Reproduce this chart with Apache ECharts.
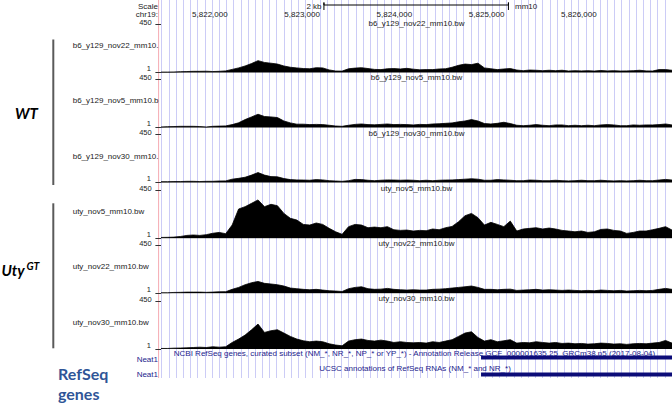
<!DOCTYPE html>
<html>
<head>
<meta charset="utf-8">
<script src="https://cdn.jsdelivr.net/npm/echarts@6/dist/echarts.min.js"></script>
<style>
  html, body { margin: 0; background: #fff; }
  #chart { width: 672px; height: 405px; }
</style>
</head>
<body>
<div id="chart"></div>
<script>
// coverage, 80 bins across the window, scale 1..450
const b6Nov22 = [5, 5, 6, 9, 10, 12, 12, 13, 10, 12, 16, 30, 44, 62, 85, 112, 95, 88, 80, 62,
  50, 44, 38, 36, 46, 44, 25, 15, 14, 36, 42, 46, 38, 30, 28, 36, 38, 34, 40, 32,
  26, 28, 28, 34, 36, 50, 68, 80, 75, 88, 44, 36, 28, 34, 38, 24, 18, 24, 22, 18,
  22, 18, 22, 15, 18, 16, 18, 15, 20, 16, 18, 15, 16, 18, 22, 16, 15, 28, 28, 22];
const b6Nov5 = [6, 9, 10, 12, 12, 12, 10, 6, 12, 14, 16, 28, 45, 75, 100, 125, 104, 100, 94, 62,
  44, 32, 32, 28, 30, 28, 22, 15, 12, 22, 30, 34, 28, 26, 30, 34, 28, 30, 28, 25,
  30, 28, 34, 36, 40, 44, 54, 62, 75, 62, 38, 34, 40, 50, 38, 22, 18, 22, 28, 22,
  18, 25, 25, 18, 22, 18, 22, 18, 25, 28, 25, 18, 18, 25, 22, 25, 25, 28, 34, 25];
const b6Nov30 = [9, 9, 10, 10, 12, 12, 10, 12, 12, 15, 16, 32, 40, 50, 70, 94, 70, 56, 54, 38,
  28, 25, 24, 22, 28, 25, 18, 15, 12, 18, 30, 28, 22, 18, 22, 25, 24, 22, 24, 22,
  18, 22, 18, 22, 24, 25, 28, 32, 36, 32, 22, 22, 28, 25, 22, 18, 18, 24, 22, 18,
  18, 22, 18, 16, 18, 22, 18, 18, 22, 18, 16, 18, 16, 18, 22, 18, 18, 24, 30, 24];
const utyNov5 = [9, 10, 12, 18, 28, 32, 28, 35, 48, 56, 44, 125, 275, 297, 328, 360, 297, 319, 306, 234,
  188, 172, 131, 125, 144, 131, 94, 62, 38, 110, 131, 125, 100, 106, 100, 110, 81, 75, 78, 69,
  75, 72, 88, 81, 100, 112, 156, 212, 234, 194, 125, 150, 131, 110, 162, 69, 88, 94, 100, 88,
  97, 88, 75, 69, 62, 69, 56, 62, 84, 88, 75, 69, 47, 56, 69, 69, 81, 94, 110, 78];
const utyNov22 = [6, 6, 9, 10, 12, 12, 12, 10, 12, 15, 16, 38, 56, 81, 100, 112, 94, 88, 81, 69,
  50, 44, 38, 34, 38, 31, 25, 22, 18, 44, 56, 62, 44, 38, 40, 47, 38, 34, 31, 34,
  31, 31, 38, 40, 44, 50, 56, 62, 69, 56, 38, 38, 34, 38, 40, 28, 31, 34, 38, 31,
  34, 31, 28, 31, 28, 25, 28, 25, 31, 28, 25, 28, 22, 25, 28, 25, 28, 38, 47, 38];
const utyNov30 = [6, 6, 9, 10, 12, 15, 18, 15, 22, 18, 22, 62, 94, 131, 181, 234, 156, 172, 181, 150,
  119, 94, 78, 69, 75, 69, 50, 38, 31, 75, 88, 94, 81, 75, 84, 75, 62, 69, 62, 59,
  62, 56, 69, 62, 75, 88, 119, 150, 162, 109, 75, 88, 69, 78, 88, 56, 62, 59, 69, 62,
  56, 62, 53, 56, 50, 53, 47, 50, 56, 53, 47, 50, 44, 50, 53, 50, 56, 62, 81, 56];

const tracks = [b6Nov22, b6Nov5, b6Nov30, utyNov5, utyNov22, utyNov30];
const trackNames = ['b6_y129_nov22_mm10.bw', 'b6_y129_nov5_mm10.bw', 'b6_y129_nov30_mm10.bw',
  'uty_nov5_mm10.bw', 'uty_nov22_mm10.bw', 'uty_nov30_mm10.bw'];
const sideNames = ['b6_y129_nov22_mm10.', 'b6_y129_nov5_mm10.b', 'b6_y129_nov30_mm10.',
  'uty_nov5_mm10.bw', 'uty_nov22_mm10.bw', 'uty_nov30_mm10.bw'];
const scaleLabels = [1, 450];
const rulerTicks = [5822000, 5823000, 5824000, 5825000, 5826000];
const scaleBar = [5823000, 5825000];
const viewStart = 5821234, viewEnd = 5826773;
const neat1Start = 5824703;

// layout
const font = '"Liberation Sans", Arial, sans-serif';
const baselines = [72.5, 127.5, 182.5, 238.3, 293.3, 349];
const trackH = 48;
const nameY = [23.6, 77.3, 133, 188.3, 243.5, 298.5];
const sideY = [45, 100.7, 156, 211.7, 266.7, 322.3];

const fmt = v => String(v).replace(/\B(?=(\d{3})+(?!\d))/g, ',');

const grid = [
  { left: 161.7, top: 0, width: 71 * 7.19, height: 378 },   // guidelines
  { left: 161, top: 0, width: 511, height: 16.7 },           // ruler
];
const xAxis = [
  { gridIndex: 0, type: 'value', min: 0, max: 71, interval: 1,
    axisLine: { show: false }, axisTick: { show: false }, axisLabel: { show: false },
    splitLine: { show: true, lineStyle: { color: '#ccccf6', width: 1 } } },
  { gridIndex: 1, type: 'value', min: viewStart, max: viewEnd, position: 'bottom',
    axisLine: { show: false }, splitLine: { show: false },
    axisTick: { show: true, inside: true, length: 5, customValues: rulerTicks,
      lineStyle: { color: '#000', width: 1 } },
    axisLabel: { customValues: rulerTicks, formatter: fmt, fontSize: 8, fontFamily: font, color: '#222',
      align: 'right', verticalAlign: 'middle', margin: -2.4, padding: [0, 4, 0, 0] } },
];
const yAxis = [
  { gridIndex: 0, type: 'value', min: 0, max: 1, show: false },
  { gridIndex: 1, type: 'value', min: 0, max: 16.7, inverse: true, show: false },
];
const series = [
  { type: 'line', xAxisIndex: 1, yAxisIndex: 1, symbol: 'none', silent: true,
    data: [[scaleBar[0], 10], [scaleBar[0], 2.5], [scaleBar[0], 5], [scaleBar[1], 5], [scaleBar[1], 2.5], [scaleBar[1], 10]],
    lineStyle: { color: '#000', width: 1 } },
];

const trackAxis = [];
tracks.forEach((vals, k) => {
  const gi = grid.length;
  trackAxis.push(gi);
  grid.push({ left: 161, top: baselines[k] - trackH, width: 511, height: trackH });
  xAxis.push({ gridIndex: gi, type: 'value', min: 0, max: vals.length - 1, show: false });
  yAxis.push({ gridIndex: gi, type: 'value', min: 1, max: 450, offset: 2.7,
    axisLine: { show: false }, splitLine: { show: false },
    axisTick: { show: true, length: 5.6, customValues: scaleLabels, lineStyle: { color: '#333' } },
    axisLabel: { show: false } });
  series.push({ type: 'line', xAxisIndex: gi, yAxisIndex: gi, symbol: 'none', silent: true,
    data: vals.map((v, i) => [i, v]),
    lineStyle: { color: '#000', width: 0.8 }, areaStyle: { color: '#000', opacity: 1 } });
});

// gene rows
const gg = grid.length;
grid.push({ left: 161, top: 350, width: 511, height: 30 });
xAxis.push({ gridIndex: gg, type: 'value', min: viewStart, max: viewEnd, show: false });
yAxis.push({ gridIndex: gg, type: 'value', min: 0, max: 30, inverse: true, show: false });
[7.5, 24.5].forEach(row => {
  series.push({ type: 'line', xAxisIndex: gg, yAxisIndex: gg, symbol: 'none', silent: true,
    data: [[neat1Start, row], [viewEnd, row]],
    lineStyle: { color: '#0c0c78', width: 4, cap: 'butt' } });
});

function txt(x, y, text, o = {}) {
  return { type: 'text', x, y, silent: true, z: 10,
    style: { text, fill: o.fill || '#222', font: o.font || ('8px ' + font),
      textAlign: o.align || 'left', textVerticalAlign: 'middle' } };
}
function vline(x, y1, y2, stroke, w) {
  return { type: 'line', silent: true, shape: { x1: x, y1, x2: x, y2 }, style: { stroke, lineWidth: w } };
}

const graphic = [
  vline(158.6, 0, 378, '#f5aab2', 1),
  txt(158, 6.7, 'Scale', { align: 'right' }),
  txt(158, 14.8, 'chr19:', { align: 'right' }),
  txt(321.5, 6.5, '2 kb', { align: 'right' }),
  txt(515, 6.5, 'mm10'),
  vline(53.3, 39.5, 185, '#5a5a5a', 2),
  vline(53.3, 203.3, 348.3, '#5a5a5a', 2),
  txt(15, 112.6, 'WT', { font: 'italic bold 15px Lato, ' + font, fill: '#000' }),
  txt(1.5, 269.5, 'Uty', { font: 'italic bold 15px Lato, ' + font, fill: '#000' }),
  txt(26.5, 265.8, 'GT', { font: 'italic bold 10.5px Lato, ' + font, fill: '#000' }),
  txt(58, 373, 'RefSeq', { font: 'bold 16px Lato, ' + font, fill: '#2f5597' }),
  txt(58, 393, 'genes', { font: 'bold 16px Lato, ' + font, fill: '#2f5597' }),
  txt(158, 359.5, 'Neat1', { align: 'right', fill: '#1c1c8c' }),
  txt(158, 374.5, 'Neat1', { align: 'right', fill: '#1c1c8c' }),
  txt(414.5, 353.6, 'NCBI RefSeq genes, curated subset (NM_*, NR_*, NP_* or YP_*) - Annotation Release GCF_000001635.25_GRCm38.p5 (2017-08-04)', { align: 'center', fill: '#1c1c8c' }),
  txt(415, 368, 'UCSC annotations of RefSeq RNAs (NM_* and NR_*)', { align: 'center', fill: '#1c1c8c' }),
];
trackNames.forEach((n, k) => graphic.push(txt(416.5, nameY[k], n, { align: 'center' })));
sideNames.forEach((n, k) => graphic.push(txt(72.7, sideY[k], n)));

const chart = echarts.init(document.getElementById('chart'), null, { renderer: 'svg' });
chart.setOption({
  backgroundColor: '#fff',
  animation: false,
  grid, xAxis, yAxis, series, graphic
});

// scale labels "1" / "450" placed from each track's own y axis, sitting just above its tick
trackAxis.forEach(ai => {
  const yLo = chart.convertToPixel({ yAxisIndex: ai }, scaleLabels[0]);
  const yHi = chart.convertToPixel({ yAxisIndex: ai }, scaleLabels[1]);
  graphic.push(txt(151, yLo - 4, String(scaleLabels[0]), { align: 'right', font: '7.5px ' + font }));
  graphic.push(txt(151.7, yHi - 1.8, String(scaleLabels[1]), { align: 'right', font: '7.5px ' + font }));
});
chart.setOption({ graphic });
</script>
</body>
</html>
